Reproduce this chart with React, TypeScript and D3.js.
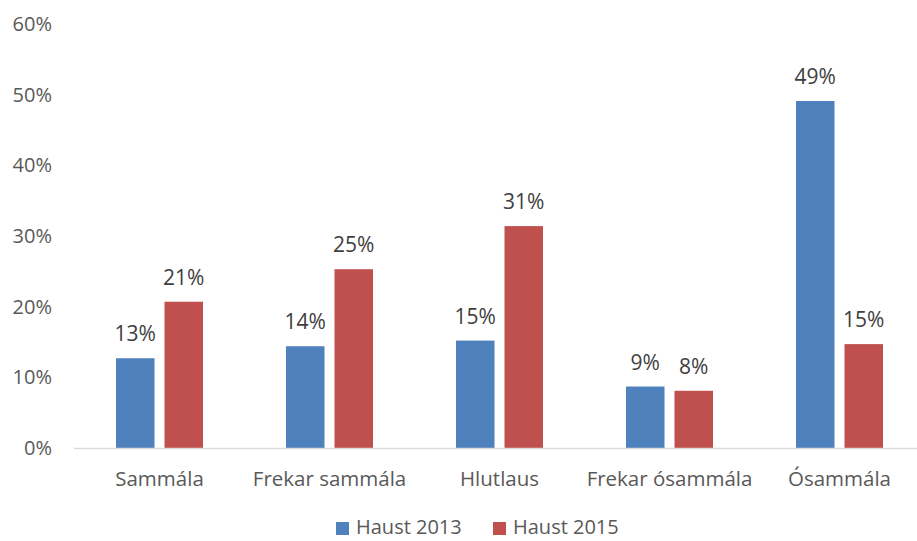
import React from 'react';
import * as d3 from 'd3';

const categories = ['Sammála', 'Frekar sammála', 'Hlutlaus', 'Frekar ósammála', 'Ósammála'];
const seriesNames = ['Haust 2013', 'Haust 2015'];
const haust2013 = [12.7, 14.4, 15.2, 8.7, 49.1];
const haust2015 = [20.7, 25.3, 31.4, 8.1, 14.7];
const yTicks = [0, 10, 20, 30, 40, 50, 60];
const colors = ['#4F81BD', '#C0504D'];

const W = 917;
const H = 541;
const FONT = '"Open Sans", sans-serif';

export default function App() {
  const values = [haust2013, haust2015];

  const x0 = d3.scaleBand<string>().domain(categories).range([74.5, 924.5]).padding(0);
  const x1 = d3.scaleBand<string>().domain(seriesNames).range([-43.5, 43.5]).paddingInner(0.206);
  const y = d3.scaleLinear().domain([0, 60]).range([448, 24]);

  const legendX = [336, 493];

  return (
    <div style={{ position: 'absolute', left: 0, top: 0 }}>
      <svg width={W} height={H} style={{ display: 'block', background: '#fff' }}>
        {/* y tick labels */}
        {yTicks.map(t => (
          <text key={t} x={52} y={y(t)} dy="0.35em" textAnchor="end"
            fontFamily={FONT} fontSize={20} fill="#595959">{t}%</text>
        ))}

        {/* bars and value labels */}
        {categories.map((c, i) => {
          const cx = x0(c)! + x0.bandwidth() / 2;
          return (
            <g key={c} transform={`translate(${cx},0)`}>
              {seriesNames.map((s, j) => {
                const v = values[j][i];
                const bx = x1(s)!;
                return (
                  <g key={s}>
                    <rect x={bx} y={y(v)} width={x1.bandwidth()} height={y(0) - y(v)} fill={colors[j]} />
                    <text x={bx + x1.bandwidth() / 2} y={y(v) - 17} textAnchor="middle"
                      fontFamily={FONT} fontSize={21} fill="#404040">{Math.round(v)}%</text>
                  </g>
                );
              })}
              <text x={0} y={486} textAnchor="middle" fontFamily={FONT} fontSize={20.5} fill="#595959">{c}</text>
            </g>
          );
        })}

        {/* x axis line */}
        <line x1={74} x2={W} y1={y(0) + 0.5} y2={y(0) + 0.5} stroke="#D9D9D9" strokeWidth={1.5} />

        {/* legend */}
        {seriesNames.map((s, j) => (
          <g key={s} transform={`translate(${legendX[j]},0)`}>
            <rect x={0} y={522} width={13} height={13} fill={colors[j]} />
            <text x={20} y={534} fontFamily={FONT} fontSize={20} fill="#595959">{s}</text>
          </g>
        ))}
      </svg>
    </div>
  );
}
